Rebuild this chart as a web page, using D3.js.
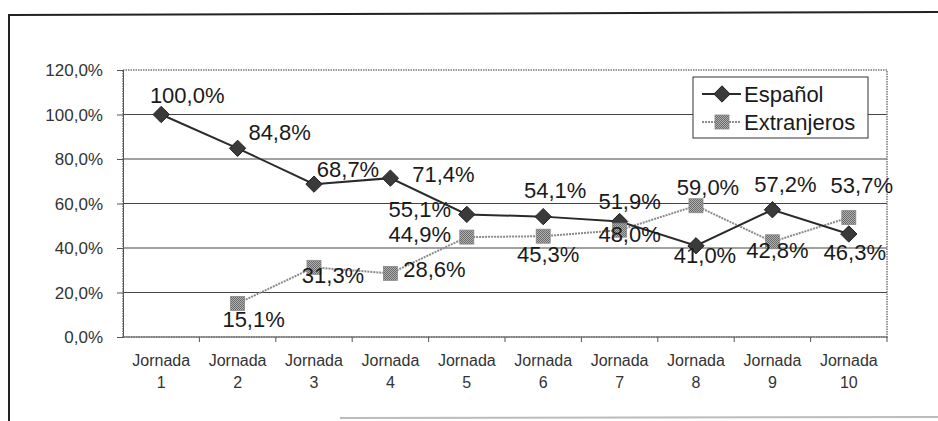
<!DOCTYPE html>
<head>
<meta charset="utf-8">
<title>Jornadas</title>
<style>
  body { margin: 0; background: #fff; }
  svg { display: block; }
</style>
</head>

<div id="chart"></div>

<script src="https://cdn.jsdelivr.net/npm/d3@7"></script>
<script>
const categories = ["Jornada 1", "Jornada 2", "Jornada 3", "Jornada 4", "Jornada 5",
                    "Jornada 6", "Jornada 7", "Jornada 8", "Jornada 9", "Jornada 10"];
const espanol     = [100.0, 84.8, 68.7, 71.4, 55.1, 54.1, 51.9, 41.0, 57.2, 46.3];
const extranjeros = [null, 15.1, 31.3, 28.6, 44.9, 45.3, 48.0, 59.0, 42.8, 53.7];
const yTicks = [0, 20, 40, 60, 80, 100, 120];

// label nudges (dx, dy), per point
const espLabelOff = [[26,-12],[42,-8],[34,-7],[53,4],[-47,3],[12,-19],[10,-13],[9,17],[13,-18],[6,26]];
const extLabelOff = [null,[16,24],[19,16],[44,4],[-47,5],[5,26],[10,12],[12,-11],[5,16],[13,-25]];

const W = 938, H = 421;
const plot = {left: 123, right: 887, top: 70, bottom: 337};
const FONT = "'Liberation Sans', Arial, sans-serif";

const fmt = v => v.toFixed(1).replace(".", ",") + "%";

const svg = d3.select("#chart").append("svg")
    .attr("width", W).attr("height", H)
    .attr("font-family", FONT);

const defs = svg.append("defs");
const pat = defs.append("pattern").attr("id", "speck")
    .attr("width", 2).attr("height", 2).attr("patternUnits", "userSpaceOnUse");
pat.append("rect").attr("width", 2).attr("height", 2).attr("fill", "#b0b0b0");
pat.append("rect").attr("width", 1).attr("height", 1).attr("fill", "#6a6a6a");
pat.append("rect").attr("x", 1).attr("y", 1).attr("width", 1).attr("height", 1).attr("fill", "#6a6a6a");

// outer frame (scanned page border)
svg.append("line").attr("x1", 9).attr("x2", W).attr("y1", 15).attr("y2", 12)
    .attr("stroke", "#222").attr("stroke-width", 2);
svg.append("line").attr("x1", 9).attr("x2", 9).attr("y1", 14).attr("y2", H)
    .attr("stroke", "#222").attr("stroke-width", 2);
svg.append("line").attr("x1", 340).attr("x2", W).attr("y1", 418).attr("y2", 417)
    .attr("stroke", "#bbb").attr("stroke-width", 2);

const x = d3.scaleBand().domain(categories).range([plot.left, plot.right]);
const y = d3.scaleLinear().domain([0, 120]).range([plot.bottom, plot.top]);

// gridlines
svg.append("g").selectAll("line").data(yTicks.filter(t => t > 0 && t < 120)).join("line")
    .attr("x1", plot.left).attr("x2", plot.right)
    .attr("y1", d => y(d)).attr("y2", d => y(d))
    .attr("stroke", "#444").attr("stroke-width", 1);

// plot border (dotted, halftone look)
svg.append("rect")
    .attr("x", plot.left).attr("y", plot.top)
    .attr("width", plot.right - plot.left).attr("height", plot.bottom - plot.top)
    .attr("fill", "none").attr("stroke", "#777").attr("stroke-width", 1.5)
    .attr("stroke-dasharray", "1.5,1");

// y axis
const yAxis = svg.append("g").attr("transform", `translate(${plot.left},0)`)
    .call(d3.axisLeft(y).tickValues(yTicks).tickSize(6).tickPadding(14).tickFormat(fmt));
yAxis.attr("font-family", FONT).attr("font-size", 17);
yAxis.select(".domain").attr("stroke", "#555");
yAxis.selectAll(".tick line").attr("stroke", "#555");
yAxis.selectAll(".tick text").attr("fill", "#333").attr("dy", "0.35em");

// x axis: ticks at category boundaries
const xAxis = svg.append("g").attr("transform", `translate(0,${plot.bottom})`)
    .attr("font-family", FONT).attr("font-size", 16);
xAxis.append("line").attr("x1", plot.left).attr("x2", plot.right)
    .attr("stroke", "#666").attr("stroke-width", 1.5).attr("stroke-dasharray", "1.5,1");
xAxis.selectAll("line.tk").data(categories).join("line")
    .attr("class", "tk")
    .attr("x1", d => x(d) + x.bandwidth())
    .attr("x2", d => x(d) + x.bandwidth())
    .attr("y1", 0).attr("y2", 5).attr("stroke", "#555");
const xl = xAxis.selectAll("text").data(categories).join("text")
    .attr("text-anchor", "middle").attr("fill", "#333");
xl.append("tspan").attr("x", d => x(d) + x.bandwidth() / 2).attr("y", 29)
    .text(d => d.split(" ")[0]);
xl.append("tspan").attr("x", d => x(d) + x.bandwidth() / 2).attr("y", 51)
    .text(d => d.split(" ")[1]);

const cx = i => x(categories[i]) + x.bandwidth() / 2;

// lines
const line = d3.line().defined(d => d.v != null).x(d => cx(d.i)).y(d => y(d.v));
const extPts = extranjeros.map((v, i) => ({v, i}));
const espPts = espanol.map((v, i) => ({v, i}));

svg.append("path").datum(extPts).attr("d", line)
    .attr("fill", "none").attr("stroke", "#8a8a8a").attr("stroke-width", 2)
    .attr("stroke-dasharray", "2,1");
svg.append("path").datum(espPts).attr("d", line)
    .attr("fill", "none").attr("stroke", "#2a2a2a").attr("stroke-width", 2);

// markers
const diamond = d3.symbol().type(d3.symbolDiamond2).size(170);
svg.append("g").selectAll("path").data(espPts).join("path")
    .attr("d", diamond)
    .attr("transform", d => `translate(${cx(d.i)},${y(d.v)})`)
    .attr("fill", "#3a3a3a").attr("stroke", "#222").attr("stroke-width", 1);
svg.append("g").selectAll("rect").data(extPts.filter(d => d.v != null)).join("rect")
    .attr("x", d => cx(d.i) - 7).attr("y", d => y(d.v) - 7)
    .attr("width", 14).attr("height", 14)
    .attr("fill", "url(#speck)").attr("stroke", "#888").attr("stroke-width", 0.8);

// data labels
const labels = svg.append("g").attr("font-size", 22).attr("text-anchor", "middle")
    .attr("fill", "#1a1a1a");
labels.selectAll("text.esp").data(espPts).join("text").attr("class", "esp")
    .attr("x", d => cx(d.i) + espLabelOff[d.i][0])
    .attr("y", d => y(d.v) + espLabelOff[d.i][1])
    .text(d => fmt(d.v));
labels.selectAll("text.ext").data(extPts.filter(d => d.v != null)).join("text").attr("class", "ext")
    .attr("x", d => cx(d.i) + extLabelOff[d.i][0])
    .attr("y", d => y(d.v) + extLabelOff[d.i][1])
    .text(d => fmt(d.v));

// legend
const lg = svg.append("g").attr("transform", "translate(693,77)");
lg.append("rect").attr("width", 175).attr("height", 61)
    .attr("fill", "#fff").attr("stroke", "#333").attr("stroke-width", 1);
const legendItems = [
  {name: "Español", type: "esp"},
  {name: "Extranjeros", type: "ext"}
];
legendItems.forEach((it, k) => {
  const ly = 17 + k * 28;
  const g = lg.append("g").attr("transform", `translate(0,${ly})`);
  if (it.type === "esp") {
    g.append("line").attr("x1", 9).attr("x2", 48).attr("stroke", "#2a2a2a").attr("stroke-width", 2);
    g.append("path").attr("d", diamond).attr("transform", "translate(29,0)")
      .attr("fill", "#3a3a3a").attr("stroke", "#222");
  } else {
    g.append("line").attr("x1", 9).attr("x2", 48).attr("stroke", "#8a8a8a").attr("stroke-width", 2)
      .attr("stroke-dasharray", "2,1");
    g.append("rect").attr("x", 22).attr("y", -7).attr("width", 14).attr("height", 14)
      .attr("fill", "url(#speck)").attr("stroke", "#888").attr("stroke-width", 0.8);
  }
  g.append("text").attr("x", 51).attr("y", 8).attr("font-size", 22).attr("fill", "#1a1a1a")
    .text(it.name);
});
</script>
